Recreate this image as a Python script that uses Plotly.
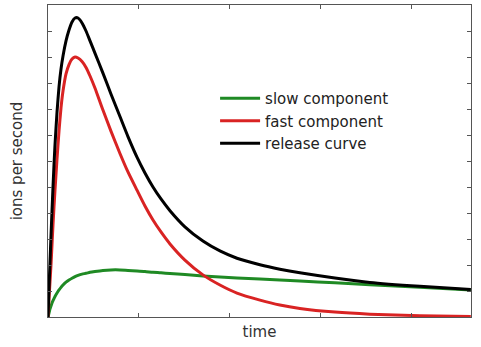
import plotly.graph_objects as go

# ---- data (arbitrary units) ----
time = [0, 0.011, 0.022, 0.033, 0.044, 0.055, 0.066, 0.077, 0.099, 0.121,
        0.143, 0.165, 0.198, 0.231, 0.264, 0.297, 0.330, 0.374, 0.418, 0.462,
        0.516, 0.604, 0.692, 0.791, 0.879, 0.978, 1.066, 1.154, 1.242, 1.341,
        1.505, 1.703, 1.890, 2.077, 2.330, 2.549, 2.769, 3.154, 3.538, 4.088, 4.648]

slow = [0, 0.15, 0.31, 0.42, 0.54, 0.63, 0.71, 0.79, 0.92, 1.04,
        1.14, 1.23, 1.34, 1.42, 1.49, 1.55, 1.6, 1.65, 1.68, 1.72,
        1.75, 1.79, 1.81, 1.81, 1.79, 1.77, 1.75, 1.72, 1.7, 1.67,
        1.63, 1.58, 1.54, 1.5, 1.46, 1.42, 1.38, 1.32, 1.24, 1.14, 1.04]

fast = [0, 0.69, 1.35, 2.0, 2.77, 3.54, 4.23, 4.88, 6.08, 7.15,
        8.04, 8.69, 9.35, 9.71, 9.92, 10.0, 9.96, 9.83, 9.6, 9.27,
        8.81, 7.96, 7.15, 6.29, 5.58, 4.88, 4.27, 3.73, 3.27, 2.81,
        2.19, 1.62, 1.23, 0.92, 0.65, 0.46, 0.33, 0.19, 0.11, 0.05, 0.02]

release = [0, 1.08, 2.12, 3.12, 4.08, 5.0, 5.85, 6.62, 7.88, 8.85,
           9.54, 10.04, 10.62, 11.04, 11.35, 11.5, 11.5, 11.31, 11.0, 10.62,
           10.15, 9.38, 8.58, 7.71, 6.94, 6.15, 5.54, 5.0, 4.54, 4.09,
           3.47, 2.92, 2.54, 2.26, 2.01, 1.84, 1.70, 1.50, 1.33, 1.18, 1.06]

series_names = ["slow component", "fast component", "release curve"]
x_ticks = [1, 2, 3, 4]
y_ticks = [1, 2, 3, 4, 5, 6, 7, 8, 9, 10, 11]

colors = ["#1f8a24", "#d92323", "#000000"]

fig = go.Figure()
for name, ys, c in zip(series_names, [slow, fast, release], colors):
    fig.add_trace(go.Scatter(x=time, y=ys, mode="lines", name=name,
                             line=dict(color=c, width=3, shape="spline", smoothing=0.6)))

axis_common = dict(showline=True, linecolor="#555555", linewidth=1, mirror="ticks",
                   ticks="inside", ticklen=4, tickcolor="#555555", tickwidth=1,
                   showticklabels=False, showgrid=False, zeroline=False)

fig.update_layout(
    width=481, height=347,
    margin=dict(l=48, r=10, t=5, b=30),
    paper_bgcolor="white", plot_bgcolor="white",
    font=dict(family="DejaVu Sans", size=15, color="#333333"),
    showlegend=True,
    legend=dict(x=0.395, y=0.753, xanchor="left", yanchor="top",
                bgcolor="rgba(0,0,0,0)", font=dict(size=15, color="#222222"),
                tracegroupgap=0, itemwidth=40),
    xaxis=dict(range=[0, 4.65], tickvals=x_ticks,
               title=dict(text="time", standoff=9, font=dict(size=15)), **axis_common),
    yaxis=dict(range=[0, 12], tickvals=y_ticks,
               title=dict(text="ions per second", standoff=20, font=dict(size=15)), **axis_common),
)

fig.write_html("out.html")
